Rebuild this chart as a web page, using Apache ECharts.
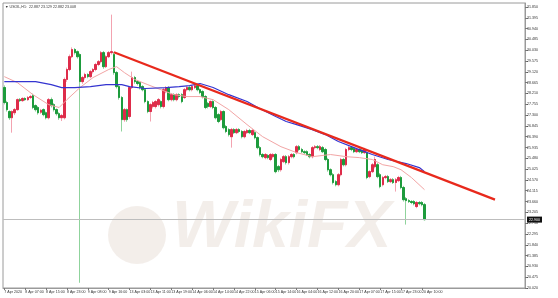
<!DOCTYPE html>
<html>
<head>
<meta charset="utf-8">
<script src="https://cdn.jsdelivr.net/npm/echarts@6/dist/echarts.min.js"></script>
<style>html,body{margin:0;padding:0;background:#fff;}#c{width:558px;height:298px;}</style>
</head>
<body>
<div id="c"></div>
<script>
const headerText = "\u25BC USOIL,H1:  22.887 23.129 22.882 23.008";
const tickLabels = ["7 Apr 2020","8 Apr 07:00","8 Apr 15:00","8 Apr 23:00","9 Apr 08:00","9 Apr 16:00","13 Apr 03:00","13 Apr 11:00","13 Apr 19:00","14 Apr 06:00","14 Apr 14:00","14 Apr 22:00","15 Apr 06:00","15 Apr 14:00","16 Apr 04:00","16 Apr 12:00","16 Apr 20:00","17 Apr 07:00","17 Apr 15:00","17 Apr 23:00","20 Apr 10:00"];
const barsPerTick = 8;
const totalSlots = 200;
// [open, close, low, high]
const candles = [
[28.46,27.83,27.75,28.55],[27.83,27.53,27.45,27.90],[27.45,27.19,27.10,27.50],[27.19,27.45,26.56,27.50],
[27.40,27.53,27.30,27.60],[27.53,27.95,27.48,28.00],[27.95,27.91,27.85,28.02],[27.91,28.00,27.86,28.05],
[28.00,27.95,27.90,28.05],[27.95,28.04,27.90,28.10],[28.04,28.08,27.98,28.15],[28.12,27.62,27.55,28.20],
[27.70,27.53,27.45,27.75],[27.62,27.40,27.32,27.68],[27.42,27.50,27.35,27.56],[27.53,27.32,27.25,27.58],
[27.40,27.19,27.12,27.45],[27.19,27.95,27.12,28.02],[27.95,27.70,27.62,28.04],[27.74,27.53,27.45,27.80],
[27.53,27.36,27.28,27.58],[27.36,27.19,27.10,27.42],[27.19,27.28,27.05,27.35],[27.19,28.80,27.12,28.88],
[28.80,29.22,28.70,29.30],[29.22,29.76,29.15,29.85],[29.76,30.06,29.70,30.15],[30.06,29.93,29.85,30.12],
[29.97,29.76,29.68,30.02],[29.85,28.71,20.24,29.90],[28.71,28.88,28.62,28.95],[28.88,29.01,28.80,29.08],
[29.01,28.92,28.85,29.06],[28.92,29.13,28.85,29.20],[29.13,29.22,29.05,29.28],[29.22,29.43,29.15,29.50],
[29.43,29.55,29.36,29.62],[29.55,29.93,29.48,30.00],[29.93,29.34,29.25,30.00],[29.34,29.76,29.28,29.82],
[29.76,29.93,29.70,30.00],[29.93,29.97,29.85,31.53],[29.85,29.09,29.00,29.95],[29.09,28.50,28.42,29.15],
[28.50,28.04,27.95,28.58],[28.04,27.11,26.61,28.10],[27.11,27.53,27.02,27.60],[27.53,27.11,27.02,27.58],
[27.24,28.46,27.15,28.52],[28.46,28.88,28.40,29.13],[28.88,28.71,28.62,28.95],[28.71,28.63,28.55,28.78],
[28.67,28.46,28.38,28.72],[28.50,28.37,28.30,28.56],[28.37,27.87,27.80,28.43],[27.87,27.45,27.38,27.92],
[27.45,27.74,27.03,27.80],[27.66,27.83,27.58,27.90],[27.66,27.87,27.58,27.93],[27.74,27.95,27.66,28.02],
[27.87,27.66,27.58,27.92],[27.66,28.37,27.58,28.44],[28.29,28.46,28.22,28.52],[28.46,27.95,27.88,28.52],
[27.95,28.16,27.88,28.22],[28.16,27.95,27.88,28.22],[27.95,28.16,27.88,28.22],[28.16,28.08,28.00,28.22],
[28.16,27.87,27.80,28.22],[28.04,28.37,27.98,28.44],[28.37,28.46,28.30,28.52],[28.46,28.37,28.30,28.52],
[28.37,28.50,28.30,28.56],[28.46,28.54,28.40,28.62],[28.54,28.37,28.30,28.60],[28.37,28.25,28.18,28.42],
[28.29,28.08,28.00,28.35],[28.08,27.62,27.55,28.14],[27.79,27.66,27.58,27.85],[27.66,27.87,27.60,27.92],
[27.87,27.62,27.55,27.92],[27.62,27.19,27.12,27.68],[27.32,27.03,26.96,27.38],[27.11,27.45,27.05,27.52],
[27.45,26.77,26.70,27.50],[26.82,26.61,26.54,26.88],[26.69,26.48,26.40,26.75],[26.39,26.69,25.93,26.76],
[26.69,26.56,26.50,26.75],[26.56,26.69,26.50,26.76],[26.69,26.61,26.54,26.75],[26.61,26.39,26.32,26.67],
[26.39,26.61,26.32,26.67],[26.56,26.65,26.50,26.72],[26.65,26.56,26.50,26.72],[26.48,26.65,26.42,26.72],
[26.56,26.35,26.28,26.62],[26.35,25.93,25.86,26.40],[25.93,25.64,25.56,26.00],[25.64,25.55,25.48,25.70],
[25.51,25.64,25.44,25.70],[25.60,25.51,25.44,25.66],[25.43,25.64,25.36,25.70],[25.55,25.64,25.48,25.70],
[25.64,24.92,24.85,25.70],[25.13,25.00,24.90,25.20],[25.00,25.43,24.92,25.50],[25.34,25.55,25.28,25.62],
[25.55,25.30,25.22,25.62],[25.30,25.55,25.22,25.62],[25.55,25.64,25.48,25.70],[25.64,25.55,25.48,25.70],
[25.72,25.97,25.65,26.04],[25.97,25.85,25.78,26.04],[25.85,25.76,25.70,25.92],[25.76,25.72,25.66,25.82],
[25.76,25.64,25.58,25.82],[25.64,25.55,25.48,25.70],[25.55,25.93,25.48,26.00],[25.93,25.97,25.86,26.04],
[25.97,25.93,25.86,26.04],[25.85,25.97,25.78,26.04],[25.93,25.76,25.70,26.00],[25.85,25.43,25.36,25.92],
[25.43,25.00,24.92,25.50],[25.00,24.79,24.72,25.06],[24.79,24.46,24.38,24.86],[24.50,24.37,24.30,24.56],
[24.37,24.79,24.30,24.86],[24.79,25.43,24.72,25.50],[25.43,25.21,25.14,25.50],[25.21,25.85,25.14,25.92],
[25.85,25.93,25.78,26.00],[25.93,25.85,25.78,26.00],[25.89,25.76,25.70,25.96],[25.76,25.85,25.70,25.92],
[25.85,25.76,25.70,25.92],[25.81,25.72,25.66,25.88],[25.72,25.85,25.66,25.92],[25.72,24.67,24.60,25.78],
[24.71,24.92,24.64,24.98],[24.92,25.21,24.86,25.28],[25.13,25.43,25.06,25.55],[25.21,24.71,24.64,25.28],
[24.79,24.29,24.22,24.86],[24.37,24.67,24.30,24.74],[24.67,24.71,24.60,24.78],[24.71,24.50,24.44,24.78],
[24.50,24.58,24.44,24.65],[24.58,24.46,24.40,24.65],[24.46,24.58,24.08,24.65],[24.54,24.67,24.48,24.74],
[24.67,24.25,24.18,24.74],[24.25,23.74,23.66,24.32],[23.78,23.70,22.69,23.85],[23.70,23.66,23.60,23.76],
[23.66,23.62,23.55,23.72],[23.66,23.57,23.50,23.72],[23.45,23.62,23.38,23.68],[23.62,23.57,23.50,23.68],
[23.62,23.53,23.46,23.68],[23.53,22.90,22.86,23.60]
];
// moving averages: [bar index, value]
const maSlow = [[0,28.71],[6,28.71],[12,28.71],[18,28.58],[22,28.46],[27,28.46],[33,28.50],[39,28.58],[45,28.58],[48,28.50],[54,28.42],[62,28.46],[67,28.50],[71,28.54],[75,28.63],[80,28.46],[86,28.16],[93,27.87],[98,27.57],[104,27.24],[108,27.03],[112,26.90],[118,26.69],[123,26.48],[128,26.19],[135,25.89],[141,25.64],[147,25.43],[154,25.26],[159,25.09],[161,24.92]];
const maFast = [[0,28.92],[5,28.67],[11,28.16],[17,27.74],[21,27.62],[24,27.95],[29,28.46],[34,28.88],[40,29.22],[43,29.34],[46,29.09],[50,28.80],[55,28.58],[60,28.37],[65,28.16],[70,28.08],[75,28.08],[80,27.95],[86,27.53],[93,26.90],[99,26.39],[106,25.97],[112,25.72],[118,25.55],[125,25.64],[131,25.55],[136,25.51],[141,25.43],[145,25.21],[149,25.13],[152,25.00],[156,24.67],[161,24.16]];
const trendLine = [[42,29.95],[188,23.74]];
const lastPrice = 22.90;
const yMin = 20.02, yMax = 32.02, yStep = 0.455;

const cats = [];
for (let i = 0; i < totalSlots; i++) {
  cats.push(i % barsPerTick === 0 && tickLabels[i / barsPerTick] ? tickLabels[i / barsPerTick] : '');
}
const bodies = candles.map(c => [c[0], c[1], Math.min(c[0], c[1]), Math.max(c[0], c[1])]);

const chart = echarts.init(document.getElementById('c'), null, {renderer: 'canvas'});
const fnt = 'Liberation Sans, Arial, sans-serif';
const fs = 3.6;
chart.setOption({
  animation: false,
  backgroundColor: '#ffffff',
  grid: {left: 3, right: 33, top: 3, bottom: 10, show: true, borderColor: '#9a9a9a', borderWidth: 1, backgroundColor: 'transparent'},
  graphic: [
    {type: 'text', left: 5, top: 5, z: 10, style: {text: headerText, fontSize: 3.6, fill: '#333', fontFamily: fnt}},
    {type: 'circle', shape: {cx: 137, cy: 235, r: 29}, z: 0, style: {fill: 'rgba(214,200,186,0.3)'}},
    {type: 'text', left: 172, top: 196, z: 0, style: {text: 'WikiFX', fontSize: 66, fontWeight: 'bold', fontStyle: 'italic', fill: 'rgba(214,200,186,0.3)', fontFamily: fnt}}
  ],
  xAxis: {
    type: 'category', data: cats, boundaryGap: true,
    axisLine: {show: true, lineStyle: {color: '#9a9a9a'}},
    axisTick: {show: true, length: 2, alignWithLabel: true, interval: (i) => i % barsPerTick === 0 && i <= 160, lineStyle: {color: '#777'}},
    axisLabel: {interval: (i) => i % barsPerTick === 0, fontSize: fs, color: '#333', align: 'left', margin: 2, fontFamily: fnt, showMinLabel: true, hideOverlap: false},
    splitLine: {show: false}
  },
  yAxis: {
    type: 'value', position: 'right', min: yMin, max: yMax, interval: yStep, scale: true,
    axisLine: {show: true, lineStyle: {color: '#9a9a9a'}},
    axisTick: {show: true, length: 3, lineStyle: {color: '#777'}},
    axisLabel: {fontSize: fs, color: '#333', margin: 2, fontFamily: fnt, showMaxLabel: false, formatter: v => v.toFixed(3)},
    splitLine: {show: false}
  },
  series: [
    {type: 'candlestick', data: candles, barWidth: 2, z: 2,
     itemStyle: {color: '#f3a3b0', color0: '#8fd39c', borderColor: '#f3a3b0', borderColor0: '#8fd39c', borderWidth: 1}},
    {type: 'candlestick', data: bodies, barWidth: 2, z: 3,
     itemStyle: {color: '#de2c4a', color0: '#1d9b3c', borderColor: '#de2c4a', borderColor0: '#1d9b3c', borderWidth: 1},
     markLine: {symbol: 'none', silent: true, animation: false,
       lineStyle: {color: '#bdbdbd', width: 1, type: 'solid'},
       label: {position: 'end', formatter: () => lastPrice.toFixed(3), backgroundColor: '#111', color: '#fff', fontSize: fs, padding: [1, 2], distance: 2, fontFamily: fnt},
       data: [{yAxis: lastPrice}]}},
    {type: 'line', data: maFast, showSymbol: false, symbol: 'none', z: 4, lineStyle: {color: '#f2a5a5', width: 1}},
    {type: 'line', data: maSlow, showSymbol: false, symbol: 'none', z: 5, lineStyle: {color: '#3434d0', width: 1.2}},
    {type: 'line', data: trendLine, showSymbol: false, symbol: 'none', z: 6, lineStyle: {color: '#e8291c', width: 2.2}}
  ]
});
</script>
</body>
</html>
